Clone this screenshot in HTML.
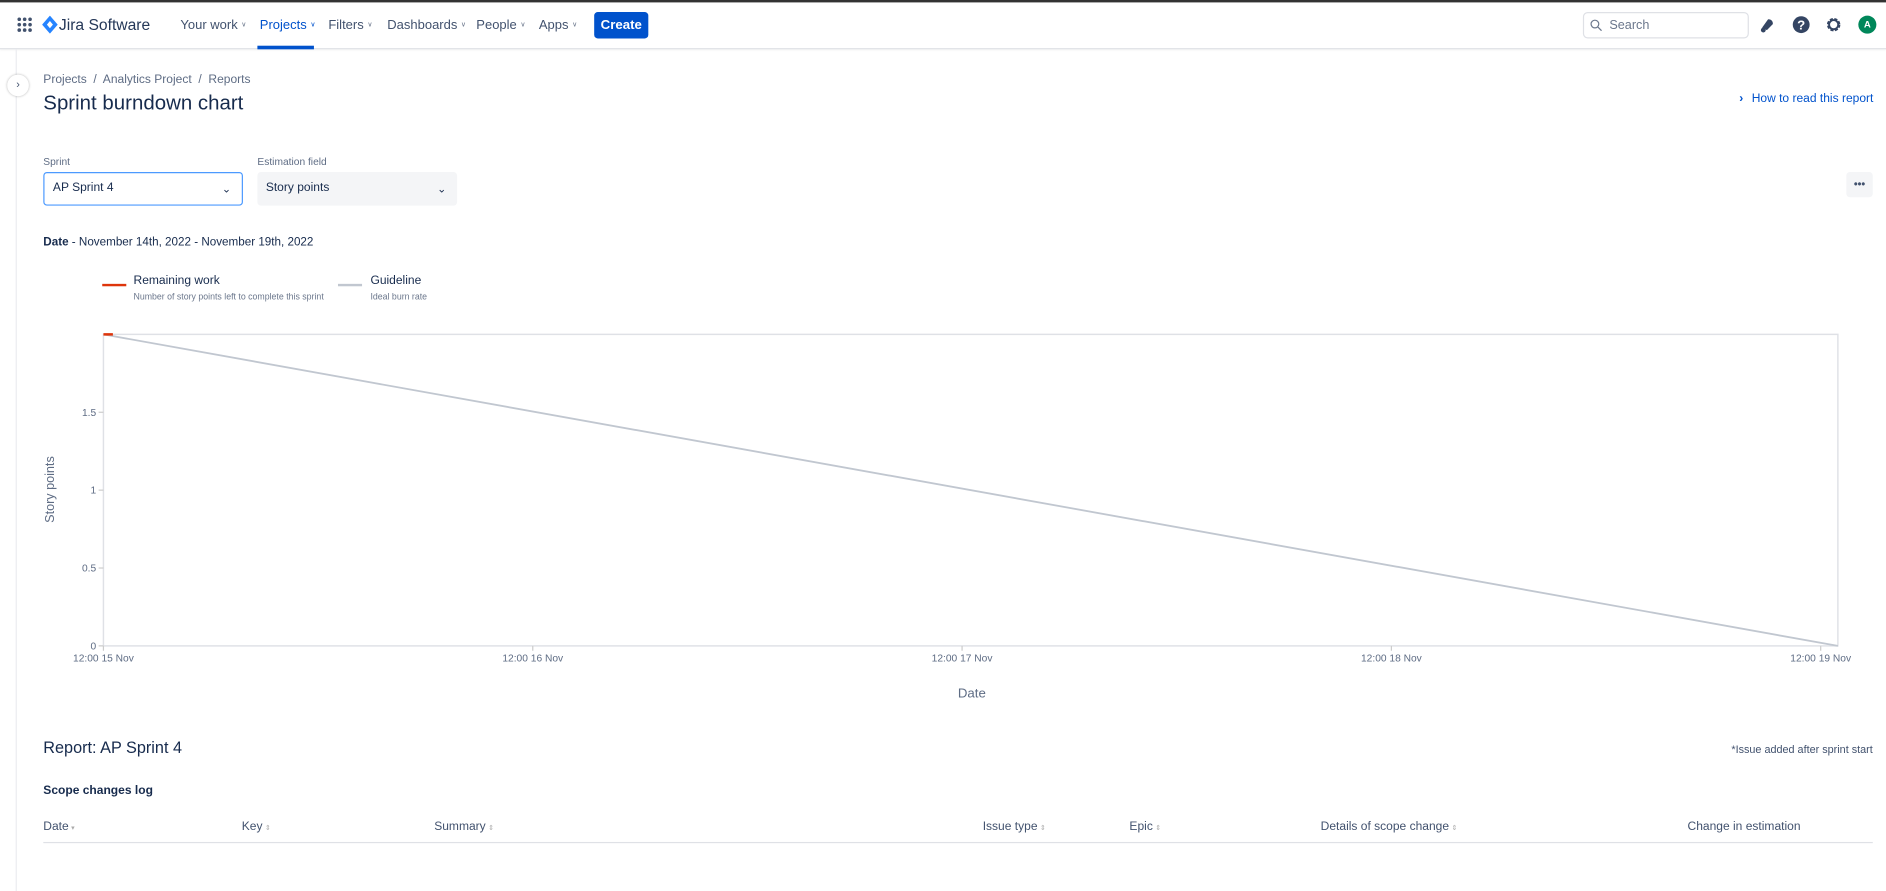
<!DOCTYPE html>
<html><head><meta charset="utf-8">
<style>
*{box-sizing:border-box;margin:0;padding:0}
html,body{width:1886px;height:891px;overflow:hidden;background:#fff;font-family:"Liberation Sans",sans-serif;color:#172b4d}
#wrap{position:absolute;left:0;top:0;width:1568px;height:741px;transform:scale(1.2028);transform-origin:0 0}
.a{position:absolute;white-space:nowrap}
.nav{font-size:10.8px;color:#42526e;top:15px}
.nav span{font-size:6px;color:#6b778c;margin-left:3px;vertical-align:2px}
.th{font-size:10px;color:#42526e;top:682px}
.th span{font-size:6px;color:#aaa;margin-left:2px}
</style></head><body>
<div id="wrap">
<div class="a" style="left:0;top:0;width:1568px;height:2px;background:#333"></div>
<div class="a" style="left:0;top:2px;width:1568px;height:39px;border-bottom:1px solid #dfe1e6;box-shadow:0 1px 2px rgba(0,0,0,.06)"></div>
<svg class="a" style="left:14px;top:14px" width="13" height="13"><g fill="#42526e"><circle cx="2" cy="2" r="1.5"/><circle cx="6.5" cy="2" r="1.5"/><circle cx="11" cy="2" r="1.5"/><circle cx="2" cy="6.5" r="1.5"/><circle cx="6.5" cy="6.5" r="1.5"/><circle cx="11" cy="6.5" r="1.5"/><circle cx="2" cy="11" r="1.5"/><circle cx="6.5" cy="11" r="1.5"/><circle cx="11" cy="11" r="1.5"/></g></svg>
<svg class="a" style="left:35px;top:13px" width="13" height="15"><path d="M6.5 0L13 7.5 6.5 15 0 7.5z" fill="#2684ff"/><path d="M6.5 4.5L9 7.5 6.5 10.5 4 7.5z" fill="#fff"/></svg>
<div class="a" style="left:49px;top:13px;font-size:13px;color:#253858">Jira Software</div>
<div class="a nav" style="left:150px">Your work<span>∨</span></div>
<div class="a nav" style="left:216px;color:#0052cc">Projects<span style="color:#0052cc">∨</span></div>
<div class="a" style="left:214px;top:38px;width:47px;height:3px;background:#0052cc"></div>
<div class="a nav" style="left:273px">Filters<span>∨</span></div>
<div class="a nav" style="left:322px">Dashboards<span>∨</span></div>
<div class="a nav" style="left:396px">People<span>∨</span></div>
<div class="a nav" style="left:448px">Apps<span>∨</span></div>
<div class="a" style="left:494px;top:10px;width:45px;height:22px;background:#0052cc;border-radius:3px;color:#fff;font-size:11px;font-weight:bold;text-align:center;line-height:22px">Create</div>
<div class="a" style="left:1316px;top:10px;width:138px;height:22px;border:1px solid #dfe1e6;border-radius:4px;font-size:10.5px;color:#6b778c;line-height:20px;padding-left:21px">Search</div>
<svg class="a" style="left:1322px;top:16px" width="10" height="10"><circle cx="4" cy="4" r="3.2" fill="none" stroke="#6b778c" stroke-width="1"/><line x1="6.5" y1="6.5" x2="9.5" y2="9.5" stroke="#6b778c" stroke-width="1"/></svg>
<svg class="a" style="left:1462px;top:14px" width="14" height="14"><path d="M3 9 L8 2 Q12 2 12 6 L7 11 Z" fill="#344563"/><circle cx="4" cy="11" r="2" fill="#344563"/></svg>
<svg class="a" style="left:1490px;top:13px" width="15" height="15"><circle cx="7.5" cy="7.5" r="7" fill="#344563"/><text x="7.5" y="11.5" font-size="11" font-weight="bold" fill="#fff" text-anchor="middle" font-family="Liberation Sans">?</text></svg>
<svg class="a" style="left:1517px;top:13px" width="15" height="15"><circle cx="7.5" cy="7.5" r="4.5" fill="none" stroke="#344563" stroke-width="2.2" stroke-dasharray="2.4 1.2"/><circle cx="7.5" cy="7.5" r="3.8" fill="none" stroke="#344563" stroke-width="1.6"/></svg>
<div class="a" style="left:1545px;top:13px;width:15px;height:15px;border-radius:50%;background:#00875a;color:#fff;font-size:8px;font-weight:bold;text-align:center;line-height:15px">A</div>

<div class="a" style="left:13px;top:41px;width:1px;height:700px;background:#ebecf0"></div>
<div class="a" style="left:6px;top:62px;width:18px;height:18px;border-radius:50%;background:#fff;box-shadow:0 0 2px rgba(0,0,0,.3);font-size:9px;text-align:center;line-height:17px;color:#42526e">›</div>

<div class="a" style="left:36px;top:61px;font-size:10px;color:#5e6c84">Projects &nbsp;/&nbsp; Analytics Project &nbsp;/&nbsp; Reports</div>
<div class="a" style="left:36px;top:76px;font-size:17px;color:#172b4d">Sprint burndown chart</div>
<div class="a" style="left:1446px;top:77px;font-size:10px;color:#0052cc"><b style="margin-right:7px">›</b>How to read this report</div>

<div class="a" style="left:36px;top:129px;font-size:8.5px;color:#5e6c84">Sprint</div>
<div class="a" style="left:36px;top:143px;width:166px;height:28px;border:1px solid #4c9aff;border-radius:3px;font-size:10px;line-height:26px;padding-left:7px">AP Sprint 4<span style="position:absolute;right:9px;font-size:9px">⌄</span></div>
<div class="a" style="left:214px;top:129px;font-size:8.5px;color:#5e6c84">Estimation field</div>
<div class="a" style="left:214px;top:143px;width:166px;height:28px;background:#f4f5f7;border-radius:3px;font-size:10px;line-height:28px;padding-left:7px">Story points<span style="position:absolute;right:9px;font-size:9px">⌄</span></div>
<div class="a" style="left:1535px;top:143px;width:22px;height:21px;background:#f4f5f7;border-radius:3px;font-size:9px;text-align:center;line-height:21px;color:#42526e;font-weight:bold">•••</div>

<div class="a" style="left:36px;top:196px;font-size:9.7px"><b>Date</b> - November 14th, 2022 - November 19th, 2022</div>

<div class="a" style="left:85px;top:236px;width:20px;height:2px;background:#de350b"></div>
<div class="a" style="left:111px;top:228px;font-size:10px">Remaining work</div>
<div class="a" style="left:111px;top:242px;font-size:7.3px;color:#6b778c">Number of story points left to complete this sprint</div>
<div class="a" style="left:281px;top:236px;width:20px;height:2px;background:#c1c7d0"></div>
<div class="a" style="left:308px;top:228px;font-size:10px">Guideline</div>
<div class="a" style="left:308px;top:242px;font-size:7.3px;color:#6b778c">Ideal burn rate</div>

<svg id="chart" class="a" style="left:0;top:260px" width="1568" height="330"></svg>

<div class="a" style="left:36px;top:614px;font-size:13.5px">Report: AP Sprint 4</div>
<div class="a" style="right:11px;top:618px;font-size:9px;color:#42526e">*Issue added after sprint start</div>
<div class="a" style="left:36px;top:652px;font-size:10px;font-weight:bold">Scope changes log</div>
<div class="a th" style="left:36px">Date<span>▾</span></div>
<div class="a th" style="left:201px">Key<span>⇕</span></div>
<div class="a th" style="left:361px">Summary<span>⇕</span></div>
<div class="a th" style="left:817px">Issue type<span>⇕</span></div>
<div class="a th" style="left:939px">Epic<span>⇕</span></div>
<div class="a th" style="left:1098px">Details of scope change<span>⇕</span></div>
<div class="a th" style="left:1403px">Change in estimation</div>
<div class="a" style="left:36px;top:700px;width:1521px;height:1px;background:#dfe1e6"></div>
</div>
<script>
const xTickValues=[0,1,2,3,4];
const xTickLabels=["12:00 15 Nov","12:00 16 Nov","12:00 17 Nov","12:00 18 Nov","12:00 19 Nov"];
const yTickValues=[0,0.5,1,1.5];
const yTickLabels=["0","0.5","1","1.5"];
const guidelineX=[0,4.04];
const guidelineY=[2,0];
const remainingX=[0,0.022];
const remainingY=[2,2];
const xMax=4.04, yMax=2;
const L=86,R=1528,T=18,B=277;
const sx=v=>L+(v/xMax)*(R-L);
const sy=v=>B-(v/yMax)*(B-T);
const svg=document.getElementById('chart');
const NS='http://www.w3.org/2000/svg';
function mk(tag,attrs){const e=document.createElementNS(NS,tag);for(const k in attrs)e.setAttribute(k,attrs[k]);svg.appendChild(e);return e;}
let e=mk('rect',{x:L,y:T,width:R-L,height:B-T,fill:'none',stroke:'#dfe1e6','stroke-width':1.2});


yTickValues.forEach((v,i)=>{
  const y=sy(v);
  let t=mk('line',{x1:L-4,x2:L,y1:y,y2:y,stroke:'#ccc'});
  
  
  let tx=mk('text',{x:L-6,y:y+3,'font-size':8.5,fill:'#5e6c84','text-anchor':'end','font-family':'Liberation Sans'});
  tx.textContent=yTickLabels[i];
  
  
});
xTickValues.forEach((v,i)=>{
  const x=sx(v);
  let t=mk('line',{x1:x,x2:x,y1:B,y2:B+4,stroke:'#ccc'});
  
  
  let tx=mk('text',{x:x,y:B+13,'font-size':8.5,fill:'#5e6c84','text-anchor':'middle','font-family':'Liberation Sans'});
  tx.textContent=xTickLabels[i];
  
  
});
let g=mk('polyline',{points:guidelineX.map((x,i)=>sx(x)+','+sy(guidelineY[i])).join(' '),fill:'none',stroke:'#c1c7d0','stroke-width':1.5});


let r=mk('polyline',{points:remainingX.map((x,i)=>sx(x)+','+sy(remainingY[i])).join(' '),fill:'none',stroke:'#de350b','stroke-width':2});


let yt=mk('text',{x:0,y:0,'font-size':10.5,fill:'#5e6c84','text-anchor':'middle','font-family':'Liberation Sans',transform:'translate(45,147) rotate(-90)'});
yt.textContent='Story points';


let xt=mk('text',{x:808,y:320,'font-size':11,fill:'#5e6c84','text-anchor':'middle','font-family':'Liberation Sans'});
xt.textContent='Date';


</script>
</body></html>
